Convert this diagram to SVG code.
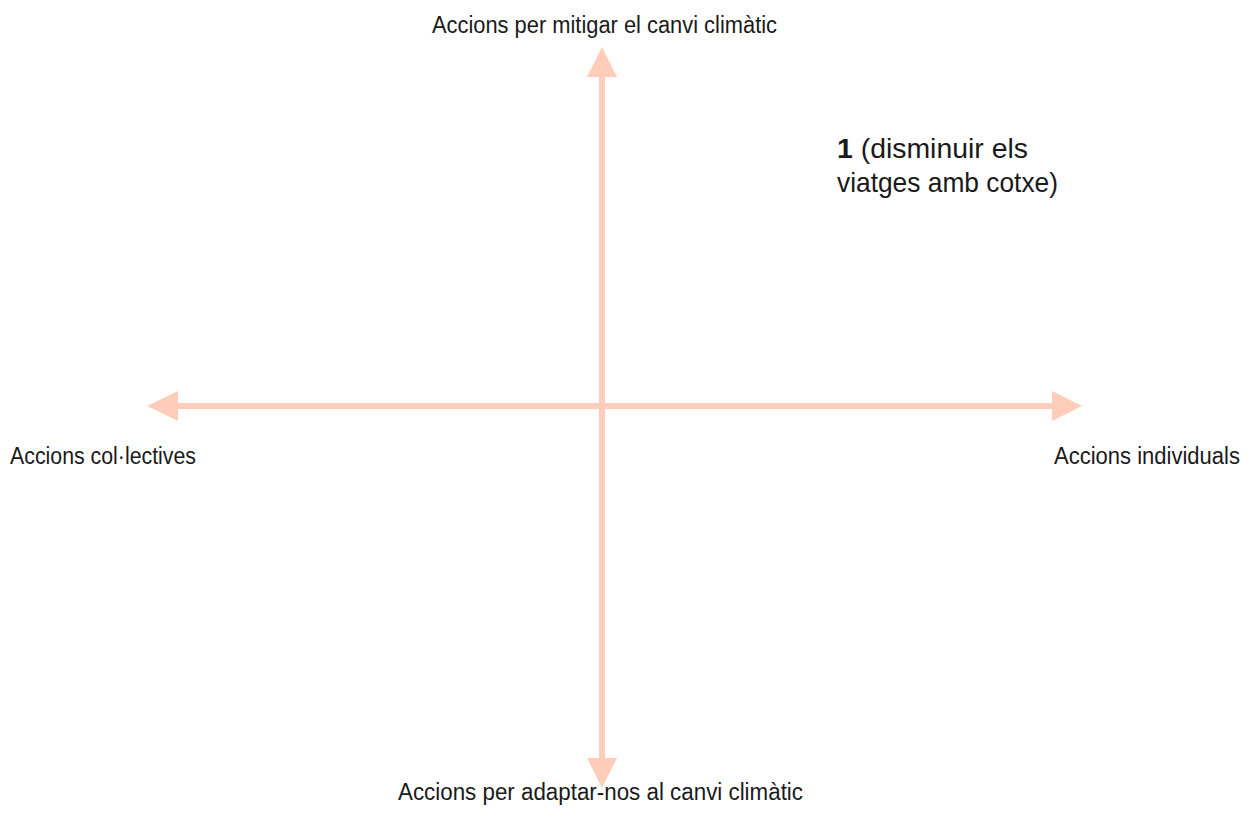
<svg xmlns="http://www.w3.org/2000/svg" width="1253" height="830" viewBox="0 0 1253 830">
<style>
.ax{stroke:#FFCDB9;stroke-width:6;fill:none}
.hd{fill:#FFCDB9}
.t{font-family:"Liberation Sans",Arial,sans-serif;font-size:23px;fill:#1a1a1a}
.n{font-family:"Liberation Sans",Arial,sans-serif;font-size:28px;fill:#1a1a1a}
</style>
<rect width="1253" height="830" fill="#ffffff"/>
<g id="connectors">
<line class="ax" x1="602" y1="75" x2="602" y2="760"/>
<line class="ax" x1="176" y1="406" x2="1054" y2="406"/>
<polygon class="hd" points="602,47 587,77 617,77"/>
<polygon class="hd" points="602,788 587,758 617,758"/>
<polygon class="hd" points="147,406 178,391 178,421"/>
<polygon class="hd" points="1082,406 1052,391 1052,421"/>
</g>
<g id="top"><text class="t" x="432" y="33" textLength="345" lengthAdjust="spacingAndGlyphs">Accions per mitigar el canvi climàtic</text></g>
<g id="bottom"><text class="t" x="398" y="800" textLength="405" lengthAdjust="spacingAndGlyphs">Accions per adaptar-nos al canvi climàtic</text></g>
<g id="left"><text class="t" x="10" y="464" textLength="186" lengthAdjust="spacingAndGlyphs">Accions col·lectives</text></g>
<g id="right"><text class="t" x="1054" y="464" textLength="186" lengthAdjust="spacingAndGlyphs">Accions individuals</text></g>
<g id="note">
<text class="n" x="837" y="158" textLength="191" lengthAdjust="spacingAndGlyphs"><tspan font-weight="bold">1</tspan> (disminuir els</text>
<text class="n" x="837" y="192" textLength="221" lengthAdjust="spacingAndGlyphs">viatges amb cotxe)</text>
</g>
</svg>
